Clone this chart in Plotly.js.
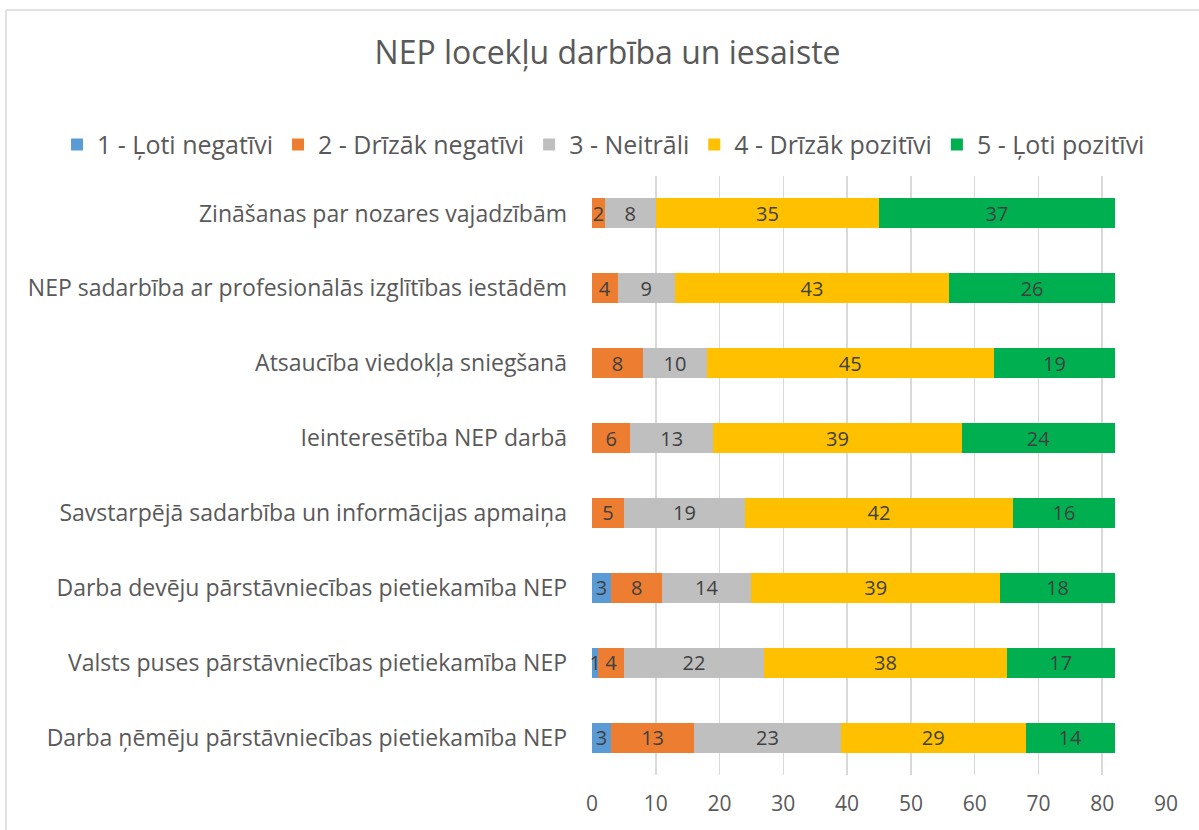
<!DOCTYPE html>
<html>
<head>
<meta charset="utf-8">
<script src="https://cdn.plot.ly/plotly-3.0.1.min.js"></script>
<style>html,body{margin:0;padding:0;background:#fff;}#chart{width:1199px;height:830px;}</style>
</head>
<body>
<div id="chart"></div>
<script>
const categories = [
  "Zināšanas par nozares vajadzībām",
  "NEP sadarbība ar profesionālās izglītības iestādēm",
  "Atsaucība viedokļa sniegšanā",
  "Ieinteresētība NEP darbā",
  "Savstarpējā sadarbība un informācijas apmaiņa",
  "Darba devēju pārstāvniecības pietiekamība NEP",
  "Valsts puses pārstāvniecības pietiekamība NEP",
  "Darba ņēmēju pārstāvniecības pietiekamība NEP"
];
const seriesNames = ["1 - Ļoti negatīvi", "2 - Drīzāk negatīvi", "3 - Neitrāli", "4 - Drīzāk pozitīvi", "5 - Ļoti pozitīvi"];
const veryNegative = [null, null, null, null, null, 3, 1, 3];
const ratherNegative = [2, 4, 8, 6, 5, 8, 4, 13];
const neutral = [8, 9, 10, 13, 19, 14, 22, 23];
const ratherPositive = [35, 43, 45, 39, 42, 39, 38, 29];
const veryPositive = [37, 26, 19, 24, 16, 18, 17, 14];
const xTicks = [0, 10, 20, 30, 40, 50, 60, 70, 80, 90];

const colors = ["#5B9BD5", "#ED7D31", "#BFBFBF", "#FFC000", "#00B050"];
const allSeries = [veryNegative, ratherNegative, neutral, ratherPositive, veryPositive];
const FONT = "'Open Sans', sans-serif";

const traces = allSeries.map((vals, i) => ({
  type: "bar",
  orientation: "h",
  name: seriesNames[i],
  y: categories,
  x: vals,
  marker: {color: colors[i], line: {width: 0}},
  text: vals.map(v => v == null ? "" : String(v)),
  textposition: "inside",
  insidetextanchor: "middle",
  textangle: 0,
  insidetextfont: {family: FONT, size: 20, color: "#404040"},
  hoverinfo: "x+name",
  cliponaxis: false
}));

const layout = {
  width: 1199,
  height: 830,
  margin: {l: 592, r: 33, t: 176, b: 55, autoexpand: false},
  paper_bgcolor: "#ffffff",
  plot_bgcolor: "#ffffff",
  barmode: "stack",
  bargap: 0.6,
  font: {family: FONT, color: "#595959", size: 20},
  uniformtext: {mode: "show", minsize: 20},
  title: {
    text: "NEP locekļu darbība un iesaiste",
    font: {family: FONT, size: 32, color: "#595959"},
    xref: "container", x: 0.5067, xanchor: "center",
    yref: "container", y: 1 - 53/830, yanchor: "middle"
  },
  showlegend: true,
  legend: {
    orientation: "h",
    xref: "paper", x: -0.932, xanchor: "left",
    y: 1.052, yanchor: "middle",
    font: {family: FONT, size: 25, color: "#595959"},
    traceorder: "normal",
    itemwidth: 30
  },
  xaxis: {
    range: [0, 90],
    tickvals: xTicks,
    ticktext: xTicks.map(String),
    showgrid: true,
    gridcolor: "#D9D9D9",
    gridwidth: 1.5,
    zeroline: false,
    showline: false,
    ticks: "",
    ticklabelstandoff: 14,
    tickfont: {family: FONT, size: 21, color: "#595959"},
    fixedrange: true
  },
  yaxis: {
    type: "category",
    autorange: "reversed",
    showgrid: false,
    zeroline: false,
    showline: false,
    ticks: "",
    ticklabelstandoff: 24,
    tickfont: {family: FONT, size: 23, color: "#595959"},
    fixedrange: true
  },
  shapes: [
    {type: "line", layer: "below", xref: "paper", yref: "paper",
     xsizemode: "pixel", ysizemode: "pixel", xanchor: 0, yanchor: 1,
     x0: -586, x1: 700, y0: 166, y1: 166,
     line: {color: "#D9D9D9", width: 1.5}},
    {type: "line", layer: "below", xref: "paper", yref: "paper",
     xsizemode: "pixel", ysizemode: "pixel", xanchor: 0, yanchor: 1,
     x0: -586, x1: -586, y0: 166, y1: -800,
     line: {color: "#D9D9D9", width: 1.5}}
  ]
};

Plotly.newPlot("chart", traces, layout, {displayModeBar: false, staticPlot: true});
</script>
</body>
</html>
